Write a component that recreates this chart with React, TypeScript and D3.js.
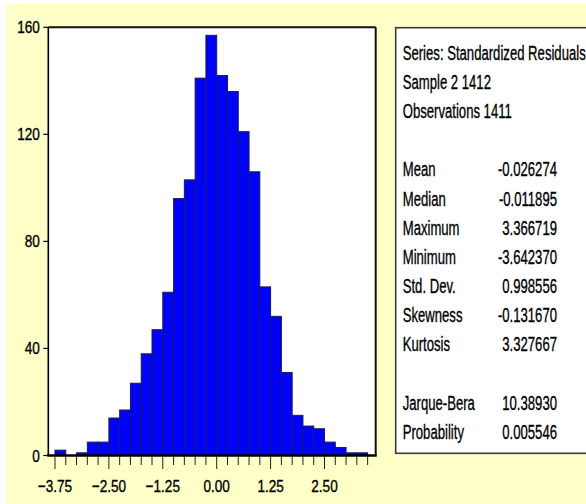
import React from "react";
import * as d3 from "d3";

// Histogram bins of width 0.25, left edges from -3.75 to 3.25
const binStarts: number[] = [
  -3.75, -3.5, -3.25, -3.0, -2.75, -2.5, -2.25, -2.0, -1.75, -1.5,
  -1.25, -1.0, -0.75, -0.5, -0.25, 0.0, 0.25, 0.5, 0.75, 1.0,
  1.25, 1.5, 1.75, 2.0, 2.25, 2.5, 2.75, 3.0, 3.25,
];
const binCounts: number[] = [
  2, 0, 1, 5, 5, 14, 17, 27, 38, 47,
  61, 96, 103, 141, 157, 142, 136, 121, 106, 63,
  52, 31, 15, 11, 10, 5, 3, 1, 1,
];
const binWidth = 0.25;

const yTicks: number[] = [0, 40, 80, 120, 160];
const xLabelTicks: number[] = [-3.75, -2.5, -1.25, 0, 1.25, 2.5];
const xMinorTicks: number[] = d3.range(-3.75, 3.5001, 0.25);

const headerLines: string[] = [
  "Series: Standardized Residuals",
  "Sample 2 1412",
  "Observations 1411",
];
const statNames: string[] = [
  "Mean", "Median", "Maximum", "Minimum", "Std. Dev.", "Skewness", "Kurtosis",
];
const statValues: string[] = [
  "-0.026274", "-0.011895", "3.366719", "-3.642370", "0.998556", "-0.131670", "3.327667",
];
const testNames: string[] = ["Jarque-Bera", "Probability"];
const testValues: string[] = ["10.38930", "0.005546"];

const FONT = "'Liberation Sans', Arial, sans-serif";

export default function App() {
  const W = 586;
  const H = 504;
  const plot = { left: 48.3, right: 375.7, top: 27.3, bottom: 455.5 };

  const x = d3.scaleLinear().domain([-3.905, 3.687]).range([plot.left, plot.right]);
  const y = d3.scaleLinear().domain([0, 160]).range([plot.bottom, plot.top]);

  const axisFont = 17;
  const sx = 0.8; // horizontal squeeze for axis labels
  const statFont = 21;
  const ts = 0.625; // horizontal squeeze for the statistics text

  const headerY = [60, 89, 117.5];
  const statY = [176, 205.5, 235, 264, 293, 322, 351];
  const testY = [410, 439];
  const labelX = 402.7;
  const valueX = 557;

  const textStyle = { stroke: "#000", strokeWidth: 0.35 };

  return (
    <svg
      width={W}
      height={H}
      style={{ position: "absolute", left: 0, top: 0, display: "block" }}
    >
      <rect x={0} y={0} width={W} height={H} fill="#ffffff" />
      <rect x={6} y={4} width={W - 6} height={H - 4} fill="#ffffc8" />

      {/* plot area */}
      <rect
        x={plot.left}
        y={plot.top}
        width={plot.right - plot.left}
        height={plot.bottom - plot.top}
        fill="#ffffff"
      />

      {/* bars */}
      {binStarts.map((b, i) =>
        binCounts[i] > 0 ? (
          <rect
            key={i}
            x={x(b)}
            y={y(binCounts[i])}
            width={x(b + binWidth) - x(b)}
            height={y(0) - y(binCounts[i])}
            fill="#0000ff"
            stroke="#1c1c4c"
            strokeWidth={1}
          />
        ) : null
      )}

      {/* frame */}
      <line x1={plot.left} x2={plot.right} y1={plot.top} y2={plot.top} stroke="#111" strokeWidth={2} />
      <line x1={plot.right} x2={plot.right} y1={plot.top} y2={plot.bottom} stroke="#111" strokeWidth={2} />
      <line x1={plot.left} x2={plot.left} y1={plot.top} y2={plot.bottom} stroke="#000" strokeWidth={1.6} />
      <line x1={plot.left - 1} x2={plot.right + 1} y1={plot.bottom} y2={plot.bottom} stroke="#000" strokeWidth={2.5} />

      {/* y axis */}
      {yTicks.map((t) => (
        <g key={t}>
          <line x1={plot.left - 5} x2={plot.left} y1={y(t)} y2={y(t)} stroke="#000" strokeWidth={1.2} />
          <text
            transform={`translate(${plot.left - 8.5},${y(t) + 6}) scale(${sx},1)`}
            textAnchor="end"
            fontFamily={FONT}
            fontSize={axisFont}
            fill="#000"
            style={textStyle}
          >
            {t}
          </text>
        </g>
      ))}

      {/* x axis */}
      {xMinorTicks.map((t, i) => {
        const major = xLabelTicks.some((m) => Math.abs(m - t) < 1e-6);
        return (
          <line
            key={i}
            x1={x(t)}
            x2={x(t)}
            y1={plot.bottom}
            y2={plot.bottom + (major ? 13.5 : 9.5)}
            stroke="#222"
            strokeWidth={1}
          />
        );
      })}
      {xLabelTicks.map((t) => (
        <text
          key={t}
          transform={`translate(${x(t)},${491.5}) scale(${sx},1)`}
          textAnchor="middle"
          fontFamily={FONT}
          fontSize={axisFont}
          fill="#000"
          style={textStyle}
        >
          {d3.format(".2f")(t)}
        </text>
      ))}

      {/* statistics panel */}
      <rect x={395.7} y={27.7} width={220} height={425.6} fill="#ffffff" stroke="#3a3a3a" strokeWidth={1.6} />
      {headerLines.map((s, i) => (
        <text
          key={s}
          transform={`translate(${labelX},${headerY[i]}) scale(${ts},1)`}
          fontFamily={FONT}
          fontSize={statFont}
          fill="#000"
          style={textStyle}
        >
          {s}
        </text>
      ))}
      {statNames.map((s, i) => (
        <g key={s}>
          <text
            transform={`translate(${labelX},${statY[i]}) scale(${ts},1)`}
            fontFamily={FONT}
            fontSize={statFont}
            fill="#000"
            style={textStyle}
          >
            {s}
          </text>
          <text
            transform={`translate(${valueX},${statY[i]}) scale(${ts},1)`}
            textAnchor="end"
            fontFamily={FONT}
            fontSize={statFont}
            fill="#000"
            style={textStyle}
          >
            {statValues[i]}
          </text>
        </g>
      ))}
      {testNames.map((s, i) => (
        <g key={s}>
          <text
            transform={`translate(${labelX},${testY[i]}) scale(${ts},1)`}
            fontFamily={FONT}
            fontSize={statFont}
            fill="#000"
            style={textStyle}
          >
            {s}
          </text>
          <text
            transform={`translate(${valueX},${testY[i]}) scale(${ts},1)`}
            textAnchor="end"
            fontFamily={FONT}
            fontSize={statFont}
            fill="#000"
            style={textStyle}
          >
            {testValues[i]}
          </text>
        </g>
      ))}
    </svg>
  );
}
